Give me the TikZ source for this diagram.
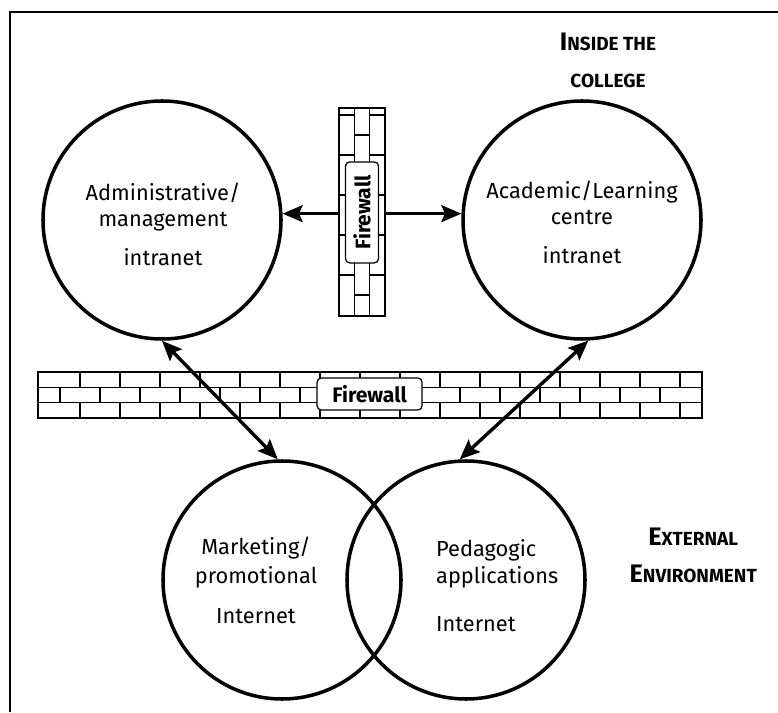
\documentclass[tikz,border=0pt]{standalone}
\usepackage{fontspec}
\setmainfont{Fira Sans}
\usetikzlibrary{arrows.meta}

\newcommand{\capinit}[1]{{\fontsize{18}{18}\selectfont #1}}

\begin{document}
\begin{tikzpicture}[
    circ/.style={circle, draw, line width=2.5pt, minimum size=5.95cm, inner sep=0pt},
    circtext/.style={align=center, font=\fontsize{15.5}{18}\selectfont},
    wall/.style={line width=0.9pt},
    fwlabel/.style={draw, fill=white, rounded corners=3pt, line width=0.9pt, inner sep=0pt, font=\bfseries\fontsize{15}{15}\selectfont},
    link/.style={line width=2.4pt, {Stealth[length=5mm,width=4.2mm,inset=0.9mm]}-{Stealth[length=5mm,width=4.2mm,inset=0.9mm]}},
    heading/.style={align=center, font=\bfseries\fontsize{13.5}{26}\selectfont}
]
    \useasboundingbox (0,0) rectangle (19.45,17.8);

    % Marco
    \draw[line width=0.8pt] (0.25,0) -- (0.25,17.5) -- (19.45,17.5);

    % Titulos
    \node[heading] (inside) at (15.2,16.29) {\capinit{I}NSIDE THE\\COLLEGE};
    \node[heading] (external) at (17.33,3.91) {\capinit{E}XTERNAL\\\capinit{E}NVIRONMENT};

    % Circulos
    \node[circ] (admin) at (4.05,12.3) {};
    \node[circ] (academic) at (14.55,12.3) {};
    \node[circ] (marketing) at (7.05,3.3) {};
    \node[circ] (pedagogic) at (11.65,3.3) {};

    % Textos
    \node[circtext] (admintext) at (4.075,12.19) {Administrative/\\management\\[10pt]intranet};
    \node[circtext] (academictext) at (14.55,12.24) {Academic/Learning\\centre\\[10pt]intranet};
    \node[circtext] (marketingtext) at (6.4,3.3) {Marketing/\\[3pt]promotional\\[10pt]Internet};
    \node[circtext, align=left, anchor=west] (pedagogictext) at (10.78,3.16) {Pedagogic\\[1pt]applications\\[16pt]Internet};

    % Muro horizontal
    \filldraw[wall, fill=white] (0.95,7.35) rectangle (17.55,8.5);
    \draw[wall] (0.95,7.733) -- (17.55,7.733);
    \draw[wall] (0.95,8.117) -- (17.55,8.117);
    \foreach \x in {2,...,17} {
        \draw[wall] (\x,8.117) -- (\x,8.5);
        \draw[wall] (\x,7.35) -- (\x,7.733);
    }
    \foreach \x in {1.5,2.5,...,16.5} {
        \draw[wall] (\x,7.733) -- (\x,8.117);
    }
    \node[fwlabel, minimum width=2.625cm, minimum height=0.8cm] (hfw) at (9.24,7.95) {Firewall};

    % Flecha entre intranets
    \draw[link] (admin.3) -- (academic.177);

    % Muro vertical
    \filldraw[wall, fill=white] (8.475,9.9) rectangle (9.625,15.1);
    \draw[wall] (8.858,9.9) -- (8.858,15.1);
    \draw[wall] (9.242,9.9) -- (9.242,15.1);
    \foreach \y in {10.925,11.925,...,14.925} {
        \draw[wall] (8.475,\y) -- (8.858,\y);
        \draw[wall] (9.242,\y) -- (9.625,\y);
    }
    \foreach \y in {10.425,11.425,...,14.425} {
        \draw[wall] (8.858,\y) -- (9.242,\y);
    }
    \node[fwlabel, rotate=90, minimum width=2.525cm, minimum height=0.825cm] (vfw) at (9.05,12.49) {Firewall};

    % Flechas hacia Internet
    \draw[link] (admin.south) -- (marketing.92);
    \draw[link] (academic.-87) -- (pedagogic.93);
\end{tikzpicture}
\end{document}
